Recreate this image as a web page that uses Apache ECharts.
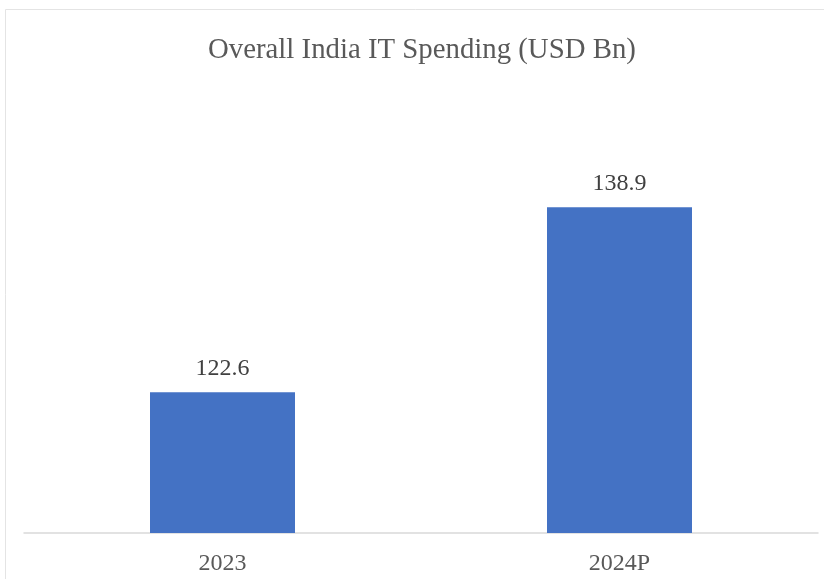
<!DOCTYPE html>
<html>
<head>
<meta charset="utf-8">
<script src="https://cdn.jsdelivr.net/npm/echarts@6/dist/echarts.min.js"></script>
<style>
html,body{margin:0;padding:0;background:#fff;}
#chart{width:824px;height:579px;}
</style>
</head>
<body>
<div id="chart"></div>
<script>
const categories = ['2023', '2024P'];
const spending = [122.6, 138.9];
const titleText = 'Overall India IT Spending (USD Bn)';

const chart = echarts.init(document.getElementById('chart'));
chart.setOption({
  animation: false,
  backgroundColor: '#ffffff',
  title: {
    text: titleText,
    left: 208,
    top: 36,
    padding: 0,
    textStyle: {
      fontFamily: 'Liberation Serif',
      fontWeight: 'normal',
      fontSize: 28.8,
      color: '#595959'
    }
  },
  graphic: [{
    type: 'rect',
    silent: true,
    shape: { x: 5.5, y: 9.5, width: 1000, height: 1000 },
    style: { fill: 'none', stroke: '#e4e4e4', lineWidth: 1 }
  }],
  grid: { left: 24, right: 6, top: 79, bottom: 46 },
  xAxis: {
    type: 'category',
    data: categories,
    axisLine: { lineStyle: { color: '#d9d9d9', width: 1.5 } },
    axisTick: { show: false },
    axisLabel: {
      margin: 19,
      fontFamily: 'Liberation Serif',
      fontSize: 24,
      color: '#595959'
    }
  },
  yAxis: {
    type: 'value',
    min: 110.2,
    max: 150.2,
    show: false,
    splitLine: { show: false }
  },
  series: [{
    type: 'bar',
    data: spending,
    barWidth: 145,
    itemStyle: { color: '#4472C4' },
    label: {
      show: true,
      position: 'top',
      distance: 12,
      fontFamily: 'Liberation Serif',
      fontSize: 24,
      color: '#404040',
      formatter: p => p.value.toFixed(1)
    }
  }]
});
</script>
</body>
</html>
